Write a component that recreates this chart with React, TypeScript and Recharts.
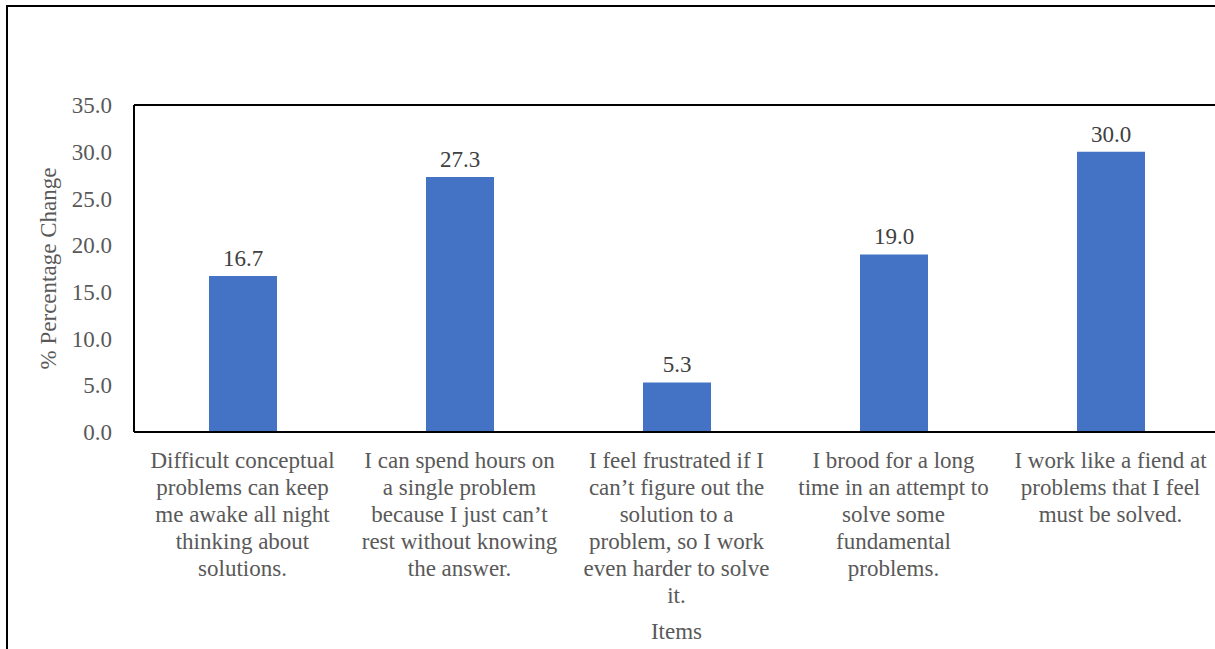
import { BarChart, Bar, XAxis, YAxis, ReferenceLine, LabelList } from 'recharts';

const categories = [
  'Difficult conceptual problems can keep me awake all night thinking about solutions.',
  'I can spend hours on a single problem because I just can’t rest without knowing the answer.',
  'I feel frustrated if I can’t figure out the solution to a problem, so I work even harder to solve it.',
  'I brood for a long time in an attempt to solve some fundamental problems.',
  'I work like a fiend at problems that I feel must be solved.',
];

const tickLines = [
  ['Difficult conceptual', 'problems can keep', 'me awake all night', 'thinking about', 'solutions.'],
  ['I can spend hours on', 'a single problem', 'because I just can’t', 'rest without knowing', 'the answer.'],
  ['I feel frustrated if I', 'can’t figure out the', 'solution to a', 'problem, so I work', 'even harder to solve', 'it.'],
  ['I brood for a long', 'time in an attempt to', 'solve some', 'fundamental', 'problems.'],
  ['I work like a fiend at', 'problems that I feel', 'must be solved.'],
];

const values = [16.7, 27.3, 5.3, 19.0, 30.0];

const yTicks = [0, 5, 10, 15, 20, 25, 30, 35];

const data = categories.map((name, i) => ({ name, value: values[i] }));

const FONT = 'Liberation Serif, DejaVu Serif, serif';

function CategoryTick(props: any) {
  const { x, y, index } = props;
  const lines = tickLines[index] || [];
  return (
    <g>
      {lines.map((line, i) => (
        <text
          key={i}
          x={x}
          y={y + 28 + i * 27}
          textAnchor="middle"
          fill="#595959"
          style={{ fontSize: 23, fontFamily: FONT }}
        >
          {line}
        </text>
      ))}
    </g>
  );
}

function YTitle(props: any) {
  const { viewBox } = props;
  const cy = viewBox.y + viewBox.height / 2;
  return (
    <text
      x={48}
      y={cy}
      transform={`rotate(-90, 48, ${cy})`}
      textAnchor="middle"
      dominantBaseline="central"
      fill="#595959"
      style={{ fontSize: 23, fontFamily: FONT }}
    >
      % Percentage Change
    </text>
  );
}

export default function App() {
  return (
    <div
      style={{
        position: 'absolute',
        left: 0,
        top: 0,
        width: 1215,
        height: 649,
        overflow: 'hidden',
        background: '#fff',
        fontFamily: FONT,
      }}
    >
      <div
        style={{
          position: 'absolute',
          left: 6,
          top: 5,
          width: 1300,
          height: 800,
          border: '2px solid #000',
        }}
      />
      <div style={{ position: 'absolute', left: 0, top: 0 }}>
        <BarChart
          width={1219}
          height={649}
          data={data}
          margin={{ top: 105, right: 0, left: 0, bottom: 7 }}
          barCategoryGap={0}
          style={{ fontFamily: FONT }}
        >
          <XAxis
            dataKey="name"
            height={210}
            axisLine={{ stroke: '#000', strokeWidth: 2 }}
            tickLine={false}
            interval={0}
            tick={<CategoryTick />}
            label={{
              value: 'Items',
              position: 'insideBottom',
              offset: 3,
              fill: '#595959',
              fontSize: 23,
              fontFamily: FONT,
            }}
          />
          <YAxis
            width={134}
            domain={[0, 35]}
            ticks={yTicks}
            interval={0}
            tickFormatter={(v: number) => v.toFixed(1)}
            axisLine={{ stroke: '#000', strokeWidth: 2 }}
            tickLine={false}
            tickMargin={16}
            tick={{ fill: '#595959', fontSize: 23, fontFamily: FONT }}
            label={<YTitle />}
          />
          <ReferenceLine y={35} stroke="#000" strokeWidth={2} />
          <Bar dataKey="value" fill="#4472C4" barSize={68} isAnimationActive={false}>
            <LabelList
              dataKey="value"
              position="top"
              offset={10}
              formatter={(v: any) => Number(v).toFixed(1)}
              fill="#404040"
              fontSize={23}
              fontFamily={FONT}
            />
          </Bar>
        </BarChart>
      </div>
    </div>
  );
}
